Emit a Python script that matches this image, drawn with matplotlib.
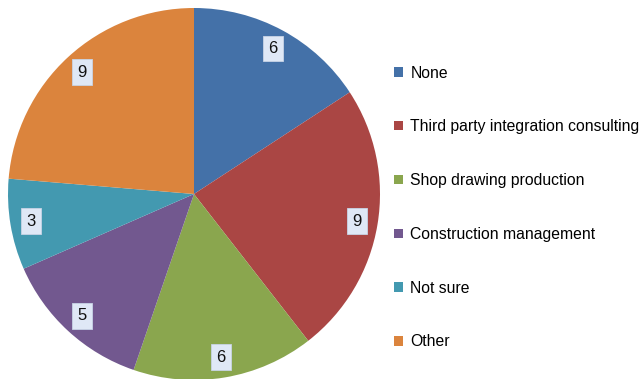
import numpy as np
import matplotlib as mpl
from matplotlib import pyplot as plt
from matplotlib.patches import Patch

CATEGORIES = [
    "None",
    "Third party integration consulting",
    "Shop drawing production",
    "Construction management",
    "Not sure",
    "Other",
]
COUNTS = [6, 9, 6, 5, 3, 9]
COLORS = ["#4471A8", "#AA4644", "#8AA64E", "#72588F", "#4399B0", "#DB843D"]

plt.rcParams['font.family'] = ['Liberation Sans', 'DejaVu Sans']

total = sum(COUNTS)

fig = plt.figure(figsize=(6.43, 3.79), dpi=100)
ax = fig.add_axes([8 / 643, -1 / 379, 372 / 643, 372 / 379])

wedges, texts, autotexts = ax.pie(
    COUNTS,
    colors=COLORS,
    startangle=90,
    counterclock=False,
    radius=1.0,
    autopct=lambda p: f"{round(p * total / 100)}",
    pctdistance=0.89,
    wedgeprops=dict(linewidth=0),
    textprops=dict(fontsize=12, color="#111111"),
)
for t in autotexts:
    t.set_bbox(dict(boxstyle="square,pad=0.32", facecolor="#dfe8f6",
                    edgecolor="#c8d4e6", linewidth=0.6))
ax.set_xlim(-1, 1)
ax.set_ylim(-1, 1)
ax.set_aspect("equal")
ax.axis("off")

handles = [Patch(facecolor=c, edgecolor="none") for c in COLORS]
fig.legend(
    handles,
    CATEGORIES,
    loc="upper left",
    bbox_to_anchor=(394 / 643, 1 - 65.5 / 379),
    frameon=False,
    fontsize=11.3,
    handlelength=0.55,
    handleheight=0.55,
    handletextpad=0.5,
    labelspacing=2.47,
    borderpad=0,
    borderaxespad=0,
)

fig.savefig("out.png", dpi=100)
